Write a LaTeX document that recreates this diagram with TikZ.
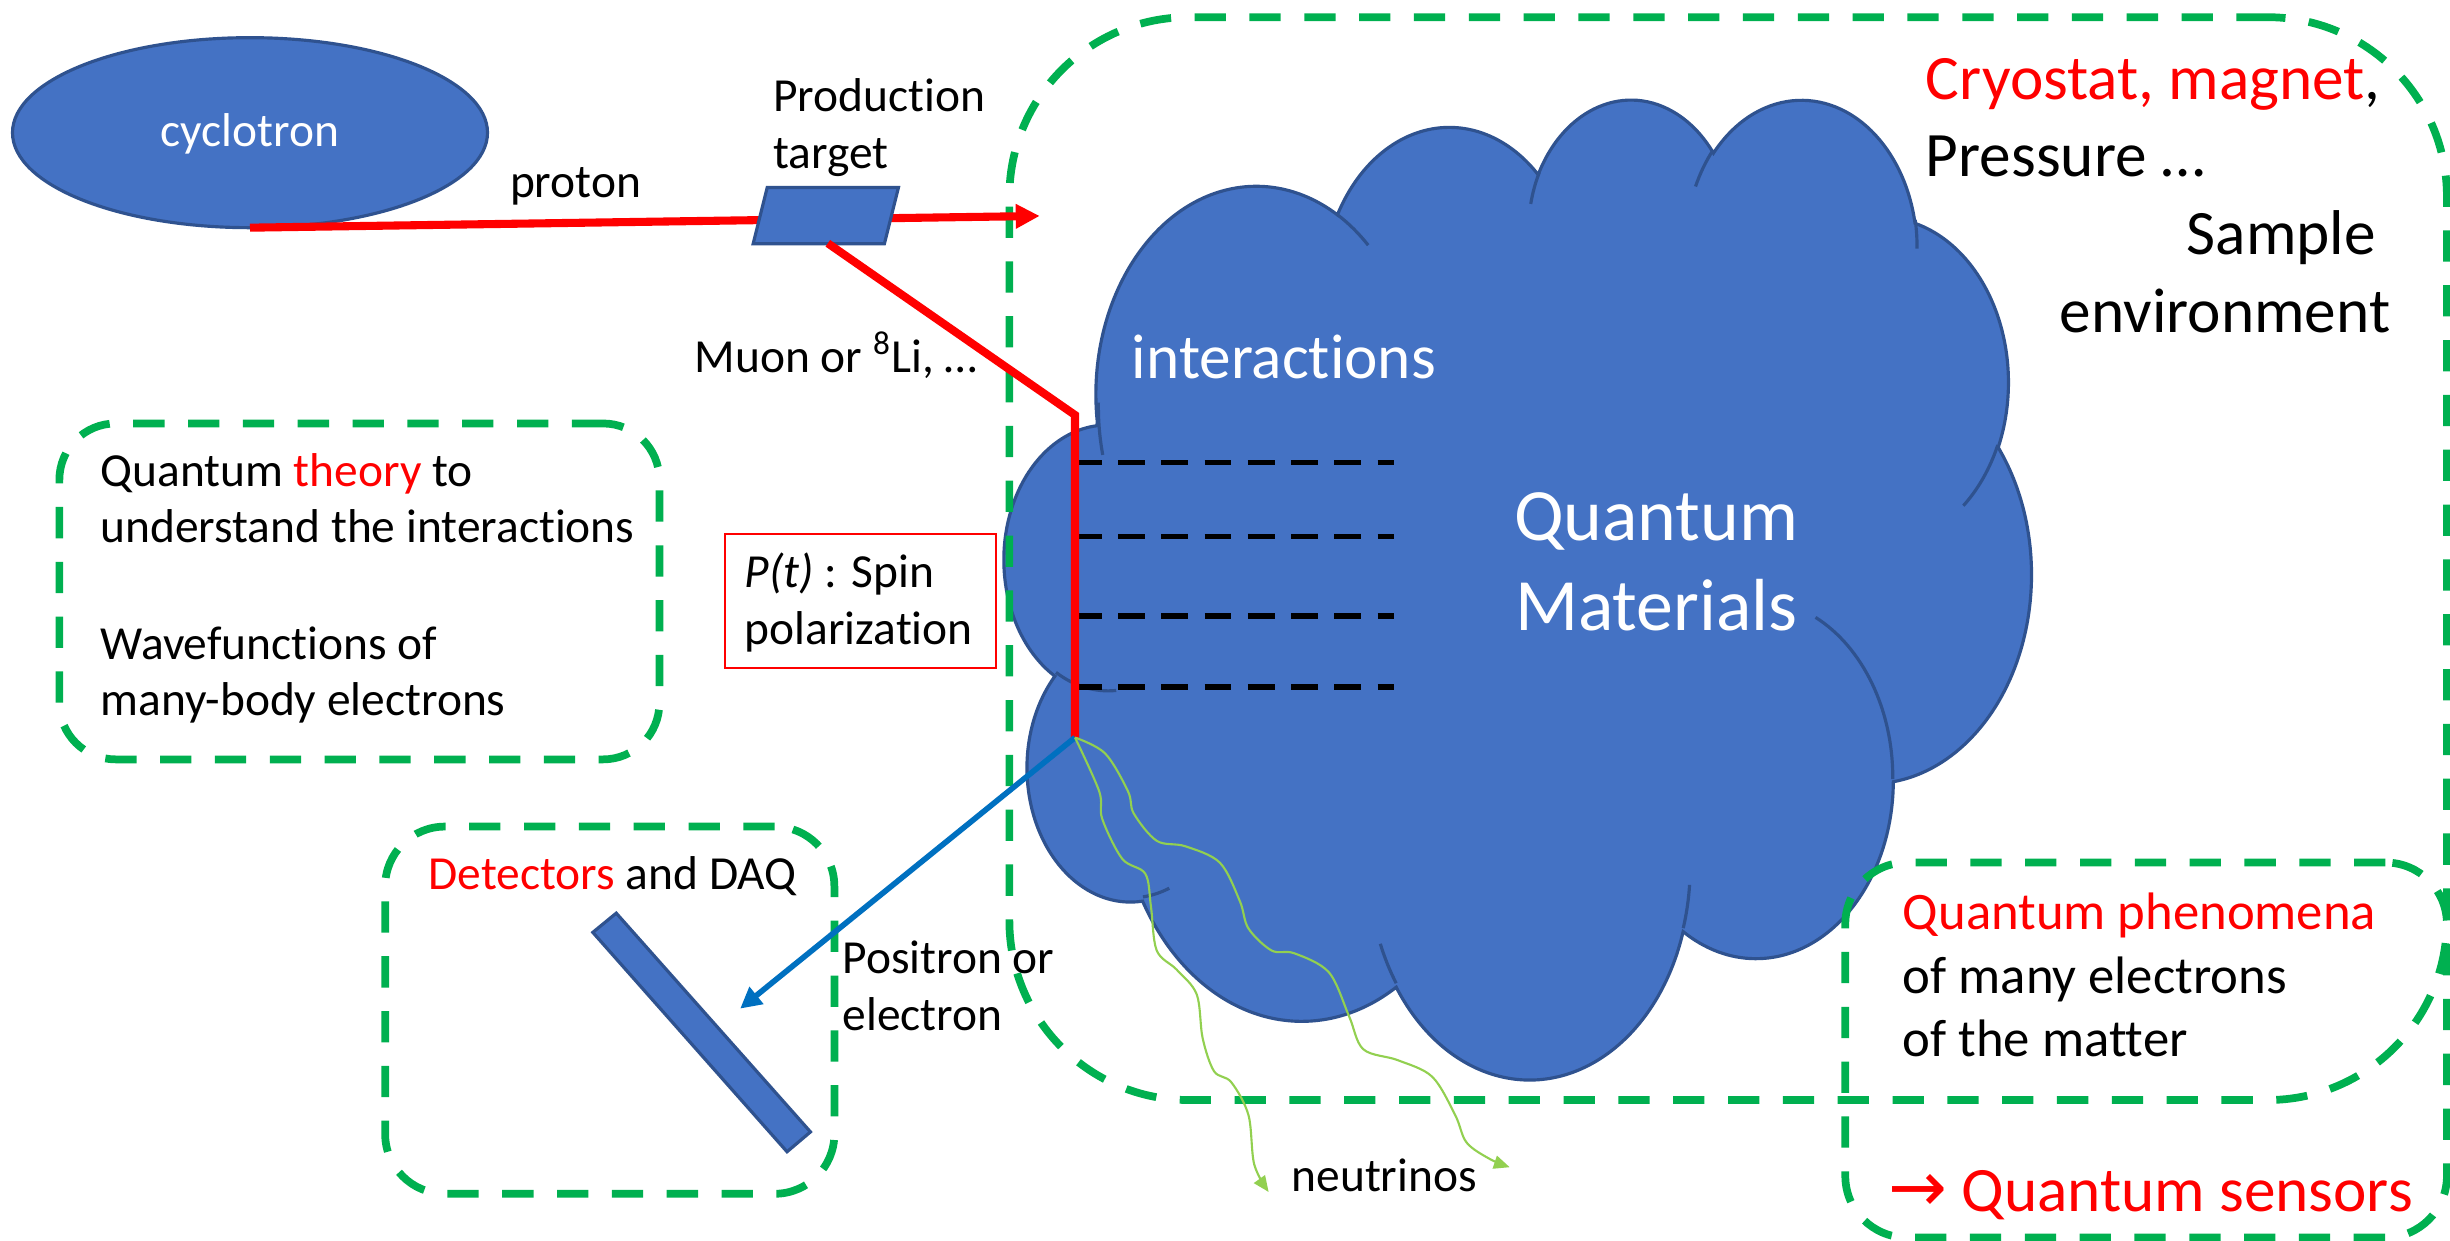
\documentclass[tikz,border=0pt]{standalone}
\usepackage{fontspec}
\setmainfont{Carlito}[Ligatures=NoCommon]
\newfontfamily\arrowfont{DejaVu Sans}
\usetikzlibrary{arrows.meta,shapes.geometric}
\definecolor{cloudblue}{HTML}{4472C4}
\definecolor{cloudedge}{HTML}{2F528F}
\definecolor{boxgreen}{HTML}{00B050}
\definecolor{posblue}{HTML}{0070C0}
\definecolor{nugreen}{HTML}{92D050}
\definecolor{pptred}{HTML}{FF0000}
% arc of the cloud: name, wR, hR, visual start angle, sweep (deg)
\newcommand\cldarc[5]{%
  \pgfmathsetmacro\cldtA{atan2((#2)*sin(#4),(#3)*cos(#4))}%
  \pgfmathsetmacro\cldtB{atan2((#2)*sin((#4)+(#5)),(#3)*cos((#4)+(#5)))}%
  \pgfmathsetmacro\cldtD{mod((\cldtB)-(\cldtA)+720,360)}%
  \expandafter\xdef\csname cld#1s\endcsname{\cldtA}%
  \expandafter\xdef\csname cld#1d\endcsname{\cldtD}%
}
\begin{document}
\begin{tikzpicture}[x=0.015625cm, y=-0.015625cm,
  every node/.style={inner sep=0pt, outer sep=0pt},
  gbox/.style={draw=boxgreen, line width=2.2pt, dash pattern=on 8.9pt off 6.7pt, rounded corners=#1},
  gbox/.default=17pt,
  lbl/.style={anchor=base west, font=\fontsize{13.5pt}{16pt}\selectfont},
  lblmid/.style={anchor=base west, font=\fontsize{15pt}{18pt}\selectfont},
  lblbig/.style={anchor=base west, font=\fontsize{18pt}{21pt}\selectfont},
  lblhuge/.style={anchor=base, font=\fontsize{21pt}{25pt}\selectfont, text=white},
  blueshape/.style={fill=cloudblue, draw=cloudedge, line width=0.9pt},
  redbeam/.style={draw=pptred, line width=2.3pt},
  spindash/.style={draw=black, line width=1.55pt, dash pattern=on 7.6pt off 4.7pt},
  nuline/.style={draw=nugreen, line width=0.6pt, -{Triangle[length=4.5pt,width=3.8pt]}}
]
\path[fill=white, use as bounding box] (0,0) rectangle (1568,794);

% ---------- cloud (PowerPoint cloud geometry) ----------
\cldarc{A}{67.53}{91.90}{-190.48748}{123.78053}
\cldarc{B}{53.33}{72.67}{-144.10238}{89.94523}
\cldarc{C}{43.65}{59.45}{-145.80792}{99.72302}
\cldarc{D}{48.57}{65.95}{-130.98607}{117.24173}
\cldarc{E}{53.33}{72.73}{-78.70888}{109.02692}
\cldarc{F}{67.75}{92.20}{-46.26725}{130.26900}
\cldarc{G}{57.85}{78.67}{0.62502}{114.03333}
\cldarc{H}{67.52}{92.15}{22.45160}{115.17255}
\cldarc{I}{77.20}{105.43}{66.24263}{75.71102}
\cldarc{J}{43.60}{59.18}{-274.94208}{146.73557}
\cldarc{K}{43.45}{59.45}{-246.82850}{152.51885}
\cldarc{a}{43.45}{59.45}{86.74200}{26.42950}
\cldarc{b}{43.60}{59.18}{73.61047}{11.44747}
\cldarc{c}{67.52}{92.15}{137.62415}{14.08110}
\cldarc{d}{67.52}{92.15}{6.45327}{15.99835}
\cldarc{e}{57.85}{78.67}{-70.29235}{70.91737}
\cldarc{f}{53.33}{72.73}{30.31803}{27.75150}
\cldarc{g}{48.57}{65.95}{-13.74433}{14.85890}
\cldarc{h}{48.57}{65.95}{-149.18145}{18.19537}
\cldarc{i}{43.65}{59.45}{-163.49427}{17.68635}
\cldarc{j}{67.53}{91.90}{-66.70695}{12.31935}
\cldarc{k}{67.53}{91.90}{162.04742}{19.42018}
\begin{scope}[shift={(643,62)}, x=0.0237630cm, y=-0.0226780cm]
  \path[blueshape] (39.00,143.70)
    arc[start angle=\cldAs, delta angle=\cldAd, x radius=67.53, y radius=91.90]
    arc[start angle=\cldBs, delta angle=\cldBd, x radius=53.33, y radius=72.67]
    arc[start angle=\cldCs, delta angle=\cldCd, x radius=43.65, y radius=59.45]
    arc[start angle=\cldDs, delta angle=\cldDd, x radius=48.57, y radius=65.95]
    arc[start angle=\cldEs, delta angle=\cldEd, x radius=53.33, y radius=72.73]
    arc[start angle=\cldFs, delta angle=\cldFd, x radius=67.75, y radius=92.20]
    arc[start angle=\cldGs, delta angle=\cldGd, x radius=57.85, y radius=78.67]
    arc[start angle=\cldHs, delta angle=\cldHd, x radius=67.52, y radius=92.15]
    arc[start angle=\cldIs, delta angle=\cldId, x radius=77.20, y radius=105.43]
    arc[start angle=\cldJs, delta angle=\cldJd, x radius=43.60, y radius=59.18]
    arc[start angle=\cldKs, delta angle=\cldKd, x radius=43.45, y radius=59.45]
    -- cycle;
  \begin{scope}[draw=cloudedge, line width=0.9pt]
    \draw (46.93,261.77) arc[start angle=\cldas, delta angle=\cldad, x radius=43.45, y radius=59.45];
    \draw (69.28,348.99) arc[start angle=\cldbs, delta angle=\cldbd, x radius=43.60, y radius=59.18];
    \draw (164.78,390.90) arc[start angle=\cldcs, delta angle=\cldcd, x radius=67.52, y radius=92.15];
    \draw (288.27,347.51) arc[start angle=\cldds, delta angle=\clddd, x radius=67.52, y radius=92.15];
    \draw (341.29,229.54) arc[start angle=\cldes, delta angle=\clded, x radius=57.85, y radius=78.67];
    \draw (417.98,153.54) arc[start angle=\cldfs, delta angle=\cldfd, x radius=53.33, y radius=72.73];
    \draw (383.24,54.26) arc[start angle=\cldgs, delta angle=\cldgd, x radius=48.57, y radius=65.95];
    \draw (290.78,39.52) arc[start angle=\cldhs, delta angle=\cldhd, x radius=48.57, y radius=65.95];
    \draw (221.41,47.20) arc[start angle=\cldis, delta angle=\cldid, x radius=43.65, y radius=59.45];
    \draw (140.00,51.92) arc[start angle=\cldjs, delta angle=\cldjd, x radius=67.53, y radius=91.90];
    \draw (41.27,157.89) arc[start angle=\cldks, delta angle=\cldkd, x radius=67.53, y radius=91.90];
  \end{scope}
\end{scope}

% ---------- key coordinates ----------
\coordinate (ptip) at (665.4,138.2);
\coordinate (tb) at (529.8,155.7);
\coordinate (mc) at (688,265.6);
\coordinate (v) at (688,472);
\coordinate (etip) at (473.7,645.5);
\coordinate (nuA) at (811.9,762.8);
\coordinate (nuB) at (966.2,747);

% ---------- spin dashes ----------
\foreach \yy in {296,343.3,394.2,439.8}
  \draw[spindash] (688,\yy) -- (892,\yy);

% ---------- dashed green boxes ----------
\node[gbox=51pt, minimum width=14.375cm, minimum height=10.828cm] (sampbox) at (1106,357.5) {};
\node[gbox=16pt, minimum width=6.0cm, minimum height=3.359cm] (theorybox) at (230,378.5) {};
\node[gbox=17pt, minimum width=4.492cm, minimum height=3.672cm] (detbox) at (390.25,646.5) {};
\node[gbox=17.5pt, minimum width=6.016cm, minimum height=3.75cm] (phenbox) at (1373.5,672) {};

% ---------- cyclotron, target, detector ----------
\node[ellipse, blueshape, minimum width=4.75cm, minimum height=1.9cm] (cyc) at (160,84.9) {};
\node[lbl, anchor=base, text=white] (cyctext) at (160,93.9) {cyclotron};
\draw[redbeam, -{Triangle[length=6.8pt,width=6.6pt]}] (cyc.south) -- (ptip);
\path[blueshape] (491,120) coordinate (tgtTL) -- (575,120) -- (566,156) -- (482,156) -- cycle;
\draw[redbeam, line join=miter] (tb) -- (mc) -- (v);
\draw[draw=posblue, line width=1.6pt, -{Triangle[length=6pt,width=6pt]}] (v) -- (etip);
\path[blueshape] (379.4,596.7) -- (394.4,584.4) -- (518.7,724.4) -- (503.7,737.1) -- cycle;

% ---------- neutrinos ----------
\draw[nuline] plot[smooth, tension=0.55] coordinates {(v) (703.5,506.5) (705.4,524) (718.2,549.6) (733,559.2) (736.6,580.2) (740.3,608.3) (753.1,620.6) (765.9,636.4) (769.7,664.5) (777,685.6) (788,692.6) (799,713.6) (802.7,745.2) (nuA)};
\draw[nuline] plot[smooth, tension=0.55] coordinates {(v) (707.2,482.1) (721.9,506.4) (725.6,520.6) (740.3,538.1) (758.6,541.6) (780.7,552.1) (793.5,576.7) (799,594.2) (813.8,608.3) (828.4,610.1) (850.5,622.3) (863.4,650.4) (872.5,671.5) (894.6,678.5) (916.6,689.1) (931.3,713.6) (938.6,731.2) (953.4,741.7) (nuB)};

% ---------- P(t) box ----------
\node[draw=pptred, line width=0.6pt, minimum width=2.7125cm, minimum height=1.3406cm] (pbox) at (550.6,384.7) {};

% ---------- texts ----------
\node[lbl] (prod1) at (495,71.5) {Production};
\node[lbl] (prod2) at (495,107.7) {target};
\node[lbl] (proton) at (326.4,126.3) {proton};
\node[lbl] (muon) at (444.5,238.5) {Muon or \textsuperscript{8}Li, …};
\node[lblbig] (cryo) at (1232.6,63.4) {\textcolor{pptred}{Cryostat, magnet},};
\node[lblbig] (press) at (1232.6,112.9) {Pressure …};
\node[lblbig, anchor=base east] (sample) at (1520.5,162.9) {Sample};
\node[lblbig, anchor=base east] (env) at (1529.7,212.9) {environment};
\node[lblbig, text=white] (inter) at (724.4,242.3) {interactions};
\node[lblhuge] (qm1) at (1060,345.7) {Quantum};
\node[lblhuge] (qm2) at (1060,403.4) {Materials};
\node[lbl] (th1) at (64.3,311.6) {Quantum \textcolor{pptred}{theory} to};
\node[lbl] (th2) at (64.3,347.5) {understand the interactions};
\node[lbl] (th3) at (64.3,421.8) {Wavefunctions of};
\node[lbl] (th4) at (64.3,458.0) {many-body electrons};
\node[lbl] (pt1) at (476.7,376.1) {\textit{P(t)} : Spin};
\node[lbl] (pt2) at (476.7,412.2) {polarization};
\node[lbl] (det) at (274.4,569) {\textcolor{pptred}{Detectors} and DAQ};
\node[lbl] (pos1) at (539.3,623.2) {Positron or};
\node[lbl] (pos2) at (539.3,659.2) {electron};
\node[lblmid, text=pptred] (ph1) at (1217.8,594.6) {Quantum phenomena};
\node[lblmid] (ph2) at (1217.8,635.7) {of many electrons};
\node[lblmid] (ph3) at (1217.8,676.3) {of the matter};
\node[lblbig, text=pptred] (sens) at (1208.5,775.5) {{\arrowfont\fontsize{20pt}{21pt}\selectfont →} Quantum sensors};
\node[lbl] (nu) at (826.6,762.8) {neutrinos};
\end{tikzpicture}
\end{document}
